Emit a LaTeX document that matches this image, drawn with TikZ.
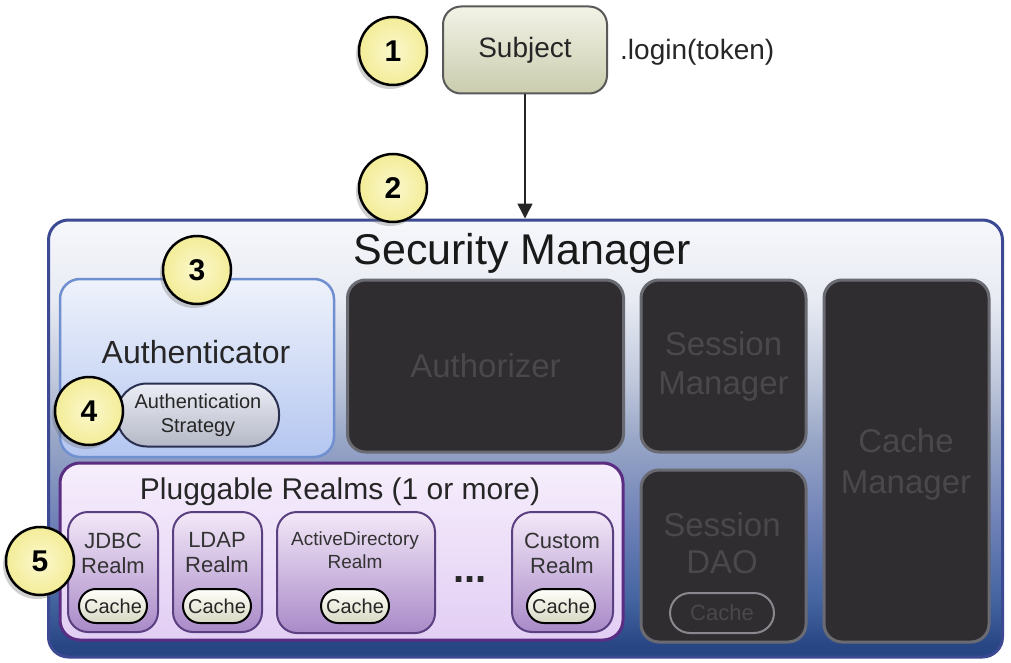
\documentclass[tikz,border=0pt]{standalone}
\usepackage{fontspec}
\setmainfont{Liberation Sans}
\usetikzlibrary{shadows,arrows.meta}
\definecolor{smA}{HTML}{F6F7FB}
\definecolor{smB}{HTML}{E8EBF3}
\definecolor{smC}{HTML}{C0C8DC}
\definecolor{smD}{HTML}{98A6C6}
\definecolor{smE}{HTML}{7082B8}
\definecolor{smF}{HTML}{4464A0}
\definecolor{smG}{HTML}{284684}
\definecolor{smborder}{HTML}{3C4A94}
\definecolor{darkfill}{HTML}{2F2D2F}
\definecolor{darkedge}{HTML}{6A6A72}
\definecolor{darktext}{HTML}{4A484C}
\definecolor{circfill}{HTML}{F3EC98}
\definecolor{circin}{HTML}{FBF8CC}
\definecolor{autop}{HTML}{EEF2FB}
\definecolor{aubot}{HTML}{B4C6F0}
\definecolor{auedge}{HTML}{6F8FD0}
\definecolor{prtop}{HTML}{F6EEFC}
\definecolor{prbot}{HTML}{E2CEF4}
\definecolor{predge}{HTML}{5A2D82}
\definecolor{rltop}{HTML}{F3E8F8}
\definecolor{rlbot}{HTML}{A98AC8}
\definecolor{rledge}{HTML}{5A4080}
\definecolor{sjtop}{HTML}{F2F3E6}
\definecolor{sjbot}{HTML}{CACCAE}
\definecolor{cctop}{HTML}{FFFFFA}
\definecolor{ccbot}{HTML}{D8D8C4}
\definecolor{sttop}{HTML}{ECEEF6}
\definecolor{stbot}{HTML}{B4B8C6}
\definecolor{stedge}{HTML}{2A3050}
\pgfdeclareverticalshading{smfull}{960pt}{color(0pt)=(smG); color(12pt)=(smG); color(57pt)=(smF); color(137pt)=(smE); color(217pt)=(smD); color(277pt)=(smC); color(357pt)=(smB); color(437pt)=(smA); color(440pt)=(smA)}
\begin{document}
\begin{tikzpicture}[x=1pt,y=-1pt,
  numcirc/.style={circle,minimum size=68pt,inner sep=0pt,draw=black,line width=2.5pt,
    inner color=circin,outer color=circfill,font=\fontsize{30}{30}\selectfont\bfseries,
    drop shadow={shadow xshift=-3pt,shadow yshift=-4pt,opacity=0.3,fill=black!60}},
  darkbox/.style={rectangle,rounded corners=18pt,fill=darkfill,draw=darkedge,line width=3pt,
    inner sep=0pt,text=darktext,align=center,font=\fontsize{33}{39}\selectfont},
  realmbox/.style={rectangle,rounded corners=20pt,top color=rltop,bottom color=rlbot,draw=rledge,
    line width=2pt,inner sep=0pt},
  realmtext/.style={align=center,text=black!80,inner sep=0pt},
  cachepill/.style={rectangle,rounded corners=17pt,top color=cctop,bottom color=ccbot,draw=black,
    line width=2pt,minimum width=68pt,minimum height=34pt,inner sep=0pt,
    font=\fontsize{20}{20}\selectfont,text=black!85},
]
\useasboundingbox (0,0) rectangle (1011,663);
\fill[white] (0,0) rectangle (1011,663);

% Subject
\node[rectangle,rounded corners=18pt,top color=sjtop,bottom color=sjbot,draw=black!65,line width=2pt,
  minimum width=164pt,minimum height=87pt,inner sep=0pt,font=\fontsize{28}{28}\selectfont,text=black!85]
  (subj) at (525,50) {Subject};
\node[anchor=west,inner sep=0pt,font=\fontsize{28}{28}\selectfont,text=black!85] (login) at (620,52) {.login(token)};

% Security manager
\node[rectangle,rounded corners=20pt,draw=smborder,line width=3pt,
  minimum width=954pt,minimum height=437pt,inner sep=0pt,
  path picture={\node[inner sep=0pt] at ([yshift=1.5pt]path picture bounding box.center) {\pgfuseshading{smfull}};}]
  (sm) at (525.5,438.5) {};
\node[font=\fontsize{43}{43}\selectfont,text=black!90,inner sep=0pt] (smtitle) at (522,253) {Security Manager};

\draw[-{Triangle[length=15pt,width=15pt]},line width=1.6pt,black!85] (subj.south) -- (subj.south |- sm.north);

% Authenticator
\node[rectangle,rounded corners=20pt,top color=autop,bottom color=aubot,draw=auedge,line width=2.5pt,
  minimum width=274pt,minimum height=178pt,inner sep=0pt] (auth) at (197,368) {};
\node[font=\fontsize{32}{32}\selectfont,text=black!85,inner sep=0pt] (authtext) at (196,352) {Authenticator};
\node[rectangle,rounded corners=30pt,top color=sttop,bottom color=stbot,draw=stedge,line width=2pt,
  minimum width=162pt,minimum height=63pt,inner sep=0pt,align=center,
  font=\fontsize{20}{24}\selectfont,text=black!85] (strat) at (198,415) {Authentication\\Strategy};

% Dark boxes
\node[darkbox,minimum width=276pt,minimum height=172pt] (authz) at (485.5,366) {Authorizer};
\node[darkbox,minimum width=165pt,minimum height=172pt] (sessm) at (723.5,366) {Session\\Manager};
\node[darkbox,minimum width=165pt,minimum height=172pt] (sdao) at (723.5,556) {};
\node[darktext,align=center,font=\fontsize{33}{37}\selectfont,inner sep=0pt] (sdaotext) at (722,543) {Session\\DAO};
\node[rectangle,rounded corners=20pt,draw=darkedge!80,line width=2pt,minimum width=104pt,minimum height=40pt,
  inner sep=0pt,text=darktext,font=\fontsize{22}{22}\selectfont] (sdaocache) at (722,613) {Cache};
\node[darkbox,minimum width=165pt,minimum height=362pt] (cachem) at (906.5,461) {};
\node[text=darktext,align=center,font=\fontsize{33}{41}\selectfont,inner sep=0pt] (cachemtext) at (906,464) {Cache\\Manager};

% Pluggable realms
\node[rectangle,rounded corners=20pt,top color=prtop,bottom color=prbot,draw=predge,line width=3pt,
  minimum width=563pt,minimum height=177pt,inner sep=0pt] (realms) at (341.5,551.5) {};
\node[font=\fontsize{30}{30}\selectfont,text=black!85,inner sep=0pt] (realmstitle) at (340,492) {Pluggable Realms (1 or more)};

\node[realmbox,minimum width=90pt,minimum height=120pt] (jdbc) at (113,572) {};
\node[realmtext,font=\fontsize{22}{25}\selectfont] (jdbct) at (113,553) {JDBC\\Realm};
\node[cachepill] (jdbcc) at (113,606) {Cache};

\node[realmbox,minimum width=89pt,minimum height=120pt] (ldap) at (217.5,572) {};
\node[realmtext,font=\fontsize{22}{25}\selectfont] (ldapt) at (217,553) {LDAP\\Realm};
\node[cachepill] (ldapc) at (217,606) {Cache};

\node[realmbox,minimum width=158pt,minimum height=121pt] (ad) at (356,572.5) {};
\node[realmtext,font=\fontsize{19}{23}\selectfont] (adt) at (355,550) {ActiveDirectory\\Realm};
\node[cachepill] (adc) at (355,606) {Cache};

\node[font=\fontsize{40}{40}\selectfont\bfseries,inner sep=0pt,text=black!85] (dots) at (470,580) {...};

\node[realmbox,minimum width=101pt,minimum height=120pt] (custom) at (562.5,572) {};
\node[realmtext,font=\fontsize{22}{25}\selectfont] (customt) at (562,553) {Custom\\Realm};
\node[cachepill] (customc) at (561,606) {Cache};

% Numbered circles
\node[numcirc] (n1) at (393,51) {1};
\node[numcirc] (n2) at (393,188) {2};
\node[numcirc] (n3) at (197,270) {3};
\node[numcirc] (n4) at (89,411) {4};
\node[numcirc] (n5) at (40,561) {5};
\end{tikzpicture}
\end{document}
